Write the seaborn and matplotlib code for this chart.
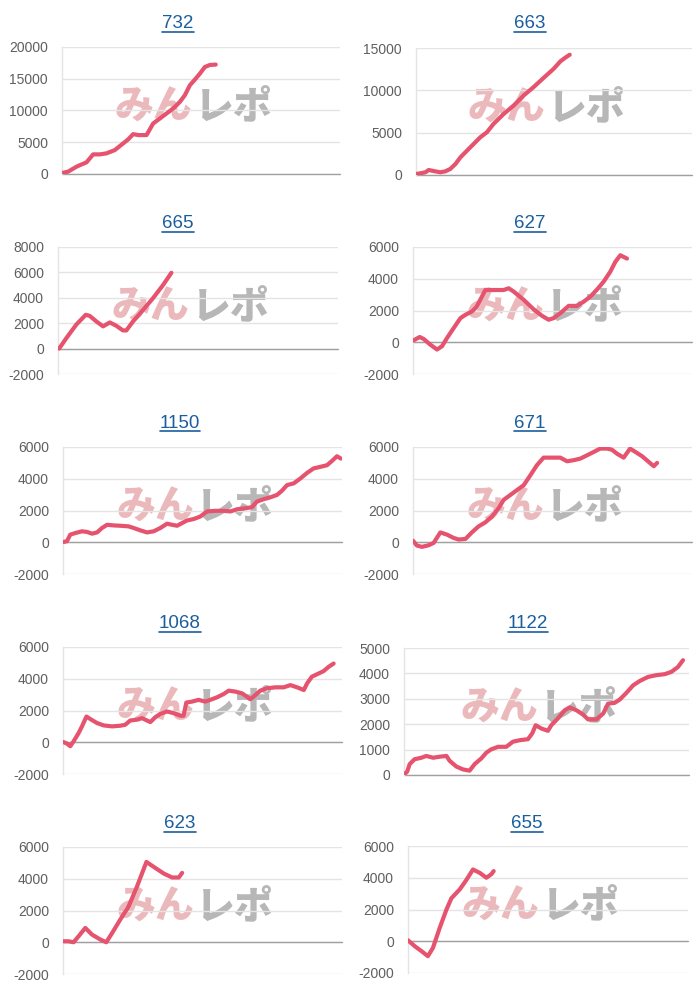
import numpy as np
import pandas as pd
import seaborn as sns
from matplotlib import pyplot as plt
from matplotlib.lines import Line2D

# panel titles (machine numbers)
titles = ['732', '663', '665', '627', '1150', '671', '1068', '1122', '623', '655']

# x = progress across the chart (0-100), y = balance
x_732 = [0.4, 2.2, 5.2, 7.0, 8.8, 11.2, 13.6, 16.0, 19.0, 22.0, 23.8, 25.6, 27.4, 30.4, 32.8,
         35.2, 37.6, 40.0, 42.4, 44.2, 46.0, 47.8, 49.6, 51.4, 53.2, 55.3]
y_732 = [200, 370, 1150, 1500, 1830, 3090, 3090, 3250, 3770, 4820, 5450, 6280, 6130, 6130, 7960,
         8740, 9530, 10320, 11360, 12410, 13980, 14870, 15810, 16860, 17170, 17230]

x_663 = [0, 1.6, 3.4, 4.6, 7.0, 8.8, 10.6, 12.4, 14.3, 16.1, 19.7, 23.3, 25.7, 28.1, 31.8, 35.4,
         39.0, 42.6, 46.3, 49.9, 52.3, 54.1, 55.7]
y_663 = [120, 200, 320, 590, 430, 320, 430, 710, 1300, 2090, 3280, 4460, 5050, 6040, 7220, 8210,
         9390, 10380, 11490, 12550, 13420, 13860, 14210]

x_665 = [0.4, 3.0, 6.5, 9.9, 11.3, 13.7, 16.1, 18.5, 20.8, 23.2, 24.4, 26.8, 30.4, 33.9, 37.5, 40.5]
y_665 = [0, 830, 1880, 2660, 2580, 2140, 1750, 2060, 1800, 1430, 1430, 2140, 3050, 3960, 5000, 5970]

x_627 = [0, 2.4, 3.8, 6.2, 8.6, 10.4, 12.2, 14.6, 17.0, 18.8, 21.1, 22.7, 24.1, 25.9, 28.9, 32.5,
         34.3, 36.1, 39.7, 43.2, 46.2, 48.6, 50.4, 52.8, 55.8, 58.8, 61.2, 63.6, 66.0, 68.3, 70.7,
         72.5, 74.3, 76.7]
y_627 = [100, 330, 210, -150, -460, -250, 270, 900, 1520, 1730, 1940, 2210, 2670, 3290, 3290, 3290,
         3400, 3190, 2670, 2080, 1670, 1420, 1520, 1830, 2290, 2290, 2560, 2880, 3330, 3810, 4440,
         5060, 5480, 5270]

x_1150 = [0.2, 1.4, 2.6, 4.4, 6.8, 8.6, 10.4, 12.2, 14.0, 15.8, 18.2, 20.5, 23.5, 25.3, 27.7, 30.1,
          32.5, 34.9, 37.3, 39.1, 40.9, 42.7, 44.4, 46.8, 49.2, 51.6, 54.6, 57.6, 60.0, 62.4, 65.4,
          67.7, 69.5, 71.9, 74.3, 76.7, 78.5, 80.3, 82.7, 85.1, 87.5, 89.8, 92.2, 94.6, 96.4, 98.2, 99.6]
y_1150 = [20, 60, 480, 580, 690, 650, 540, 620, 900, 1100, 1060, 1040, 1000, 900, 750, 620,
          690, 900, 1170, 1100, 1040, 1210, 1370, 1460, 1620, 1940, 1980, 1980, 1940, 2080, 2140,
          2210, 2560, 2710, 2830, 2980, 3250, 3600, 3710, 4020, 4370, 4650, 4750, 4850, 5120, 5420, 5270]

x_671 = [0, 1.4, 3.2, 5.6, 7.4, 9.8, 12.2, 14.6, 16.4, 18.8, 21.1, 23.5, 25.9, 28.3, 30.7, 32.5,
         34.9, 37.3, 39.7, 42.1, 44.4, 46.8, 49.8, 52.8, 55.2, 57.6, 60.0, 62.4, 64.8, 67.1, 69.5,
         71.3, 73.1, 75.5, 77.8, 79.7, 82.1, 84.5, 86.3, 87.5]
y_671 = [100, -210, -290, -190, -40, 620, 480, 270, 170, 210, 620, 1000, 1250, 1620, 2150, 2670,
         2980, 3290, 3600, 4230, 4850, 5330, 5330, 5330, 5100, 5170, 5270, 5480, 5690, 5900, 5900,
         5830, 5580, 5330, 5900, 5690, 5420, 5060, 4790, 5000]

x_1068 = [0, 1.4, 2.6, 3.8, 5.6, 6.8, 8.4, 9.8, 12.2, 14.6, 17.6, 20.5, 22.3, 24.1, 26.5, 28.3,
          30.1, 31.3, 33.1, 34.9, 37.3, 39.7, 42.1, 43.2, 44.2, 46.2, 48.6, 51.0, 52.8, 55.2, 57.6,
          59.4, 61.8, 64.2, 65.9, 67.1, 68.3, 70.7, 73.1, 76.1, 79.1, 81.5, 83.9, 86.3, 87.5, 89.2,
          91.6, 93.4, 95.2, 97.0]
y_1068 = [20, -80, -250, 60, 580, 1000, 1620, 1460, 1210, 1060, 1000, 1040, 1100, 1370, 1420, 1520,
          1370, 1270, 1580, 1790, 1940, 1830, 1670, 1670, 2500, 2560, 2670, 2560, 2670, 2830, 3040,
          3250, 3190, 3080, 2870, 2710, 2870, 3250, 3400, 3460, 3460, 3600, 3460, 3290, 3710, 4130,
          4330, 4480, 4750, 4960]

x_1122 = [0.2, 1.1, 2.0, 3.7, 6.1, 7.8, 10.2, 12.5, 14.9, 16.0, 18.4, 20.7, 23.0, 24.8, 27.1, 28.9,
          30.6, 33.0, 35.9, 38.2, 40.6, 43.5, 45.0, 46.2, 48.2, 50.5, 51.7, 54.0, 56.4, 58.1, 60.5,
          62.8, 64.6, 67.5, 69.9, 71.6, 73.9, 75.7, 78.0, 80.4, 82.7, 85.6, 88.5, 91.5, 93.8, 96.1, 97.9]
y_1122 = [40, 130, 430, 620, 680, 750, 680, 720, 750, 560, 330, 220, 170, 430, 650, 880,
          1010, 1110, 1110, 1310, 1370, 1410, 1640, 1960, 1830, 1740, 1960, 2230, 2550, 2660, 2550,
          2380, 2190, 2190, 2420, 2810, 2840, 2970, 3230, 3530, 3700, 3860, 3930, 3970, 4060, 4250, 4520]

x_623 = [0, 2.0, 3.8, 5.6, 8.0, 10.4, 13.4, 15.5, 17.6, 20.5, 23.5, 26.5, 29.9, 32.5, 36.1, 39.1, 41.5, 42.7]
y_623 = [60, 60, 0, 380, 900, 480, 170, 0, 580, 1420, 2250, 3500, 5060, 4750, 4330, 4080, 4080, 4370]

x_655 = [0, 2.4, 4.8, 7.1, 8.9, 11.3, 13.7, 15.5, 18.5, 20.8, 23.2, 25.6, 28.0, 29.8, 30.6]
y_655 = [60, -310, -620, -940, -420, 830, 1980, 2710, 3270, 3850, 4520, 4310, 4000, 4230, 4420]

# y-axis ticks for each panel
ticks_a = [0, 5000, 10000, 15000, 20000]
ticks_b = [0, 5000, 10000, 15000]
ticks_c = [-2000, 0, 2000, 4000, 6000, 8000]
ticks_d = [-2000, 0, 2000, 4000, 6000]
ticks_e = [0, 1000, 2000, 3000, 4000, 5000]

series = [(x_732, y_732), (x_663, y_663), (x_665, y_665), (x_627, y_627), (x_1150, y_1150),
          (x_671, y_671), (x_1068, y_1068), (x_1122, y_1122), (x_623, y_623), (x_655, y_655)]
yticks = [ticks_a, ticks_b, ticks_c, ticks_d, ticks_d, ticks_d, ticks_d, ticks_e, ticks_d, ticks_d]

df = pd.concat([pd.DataFrame({'panel': t, 'x': xs, 'y': ys})
                for t, (xs, ys) in zip(titles, series)], ignore_index=True)

sns.set_theme(style='white')
plt.rcParams['font.family'] = ['Liberation Sans', 'Noto Sans CJK JP', 'DejaVu Sans']

W, H = 700, 1000
fig = plt.figure(figsize=(7, 10), dpi=100)
fig.patch.set_facecolor('white')

# plot-area pixel bounds (left, right) per panel, plus small top offsets
lefts = [62, 416, 58, 413, 63, 413, 63, 404, 63, 408]
rights = [340, 692, 338, 692, 342, 692, 342, 689, 342, 688]
top_adj = [0, 1, 0, 0, 0, 0, 0, 1, 0, -1]
title_cx = [178, 530, 178, 530, 180, 530, 180, 528, 180, 527]

line_color = '#e6536e'
title_texts = []
for i, t in enumerate(titles):
    row = i // 2
    top = 47 + 200 * row + top_adj[i]
    l, r = lefts[i], rights[i]
    ax = fig.add_axes([l / W, 1 - (top + 127) / H, (r - l) / W, 127 / H])
    ax.set_facecolor('white')

    # watermark
    ax.text(0.47, 0.53, 'みん', transform=ax.transAxes, ha='right', va='center',
            fontsize=28, fontweight='heavy', color='#ebb9bc', family=['Noto Sans CJK JP'], zorder=0)
    ax.text(0.475, 0.53, 'レポ', transform=ax.transAxes, ha='left', va='center',
            fontsize=28, fontweight='heavy', color='#b7b7b7', family=['Noto Sans CJK JP'], zorder=0)

    sub = df[df['panel'] == t]
    sns.lineplot(data=sub, x='x', y='y', ax=ax, color=line_color, linewidth=3.0,
                 estimator=None, zorder=3, solid_joinstyle='round', solid_capstyle='round')

    tk = yticks[i]
    ax.set_xlim(0, 100)
    ax.set_ylim(tk[0], tk[-1])
    ax.set_yticks(tk)
    ax.set_yticklabels([str(v) for v in tk])
    ax.set_xticks([])
    ax.set_xlabel('')
    ax.set_ylabel('')
    ax.yaxis.grid(True, color='#e4e4e4', linewidth=1)
    ax.set_axisbelow(True)
    ax.axhline(0, color='#a0a0a0', linewidth=1, zorder=1, clip_on=False)
    for s in ['top', 'right', 'bottom']:
        ax.spines[s].set_visible(False)
    ax.spines['left'].set_color('#e4e4e4')
    ax.spines['left'].set_linewidth(1)
    ax.tick_params(axis='y', length=0, pad=10, labelsize=10, labelcolor='#5f5f5f')

    tt = fig.text(title_cx[i] / W, 1 - (24 + 200 * row) / H, t, ha='center', va='center',
                  fontsize=13.5, color='#1b5e9e')
    title_texts.append(tt)

# underline the titles like links
fig.canvas.draw()
for tt in title_texts:
    bb = tt.get_window_extent()
    y = (bb.y0 + 1) / H
    fig.add_artist(Line2D([bb.x0 / W, bb.x1 / W], [y, y], transform=fig.transFigure,
                          color='#1b5e9e', linewidth=1.2))

plt.savefig('out.png', dpi=100, facecolor='white')
